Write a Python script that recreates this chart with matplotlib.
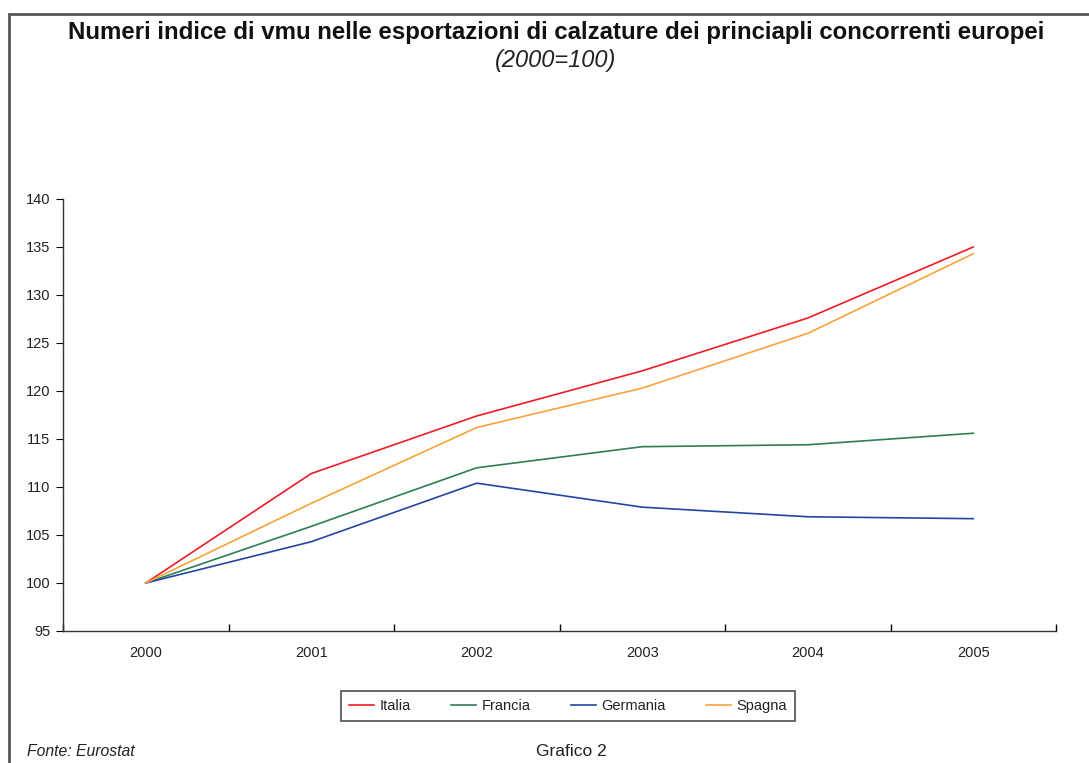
import matplotlib.pyplot as plt
from matplotlib.patches import Rectangle
import numpy as np

# ── Data ────────────────────────────────────
years = ["2000", "2001", "2002", "2003", "2004", "2005"]
italia = [100, 111.4, 117.4, 122.1, 127.6, 135.0]
francia = [100, 105.9, 112.0, 114.2, 114.4, 115.6]
germania = [100, 104.3, 110.4, 107.9, 106.9, 106.7]
spagna = [100, 108.3, 116.2, 120.3, 126.0, 134.3]

series = [
    ("Italia", italia, "#ee1c25"),
    ("Francia", francia, "#2f7f55"),
    ("Germania", germania, "#2346a0"),
    ("Spagna", spagna, "#f8a33c"),
]

TITLE = "Numeri indice di vmu nelle esportazioni di calzature dei princiapli concorrenti europei"

plt.rcParams["font.family"] = ["Liberation Sans", "DejaVu Sans"]

W, H = 1089, 763
fig = plt.figure(figsize=(W / 100, H / 100), dpi=100)

# outer frame (only top and left edges fall inside the picture)
fig.add_artist(Rectangle((8.5 / W, -0.1), 1.2, (H - 13.5) / H + 0.1,
                         transform=fig.transFigure, fill=False,
                         edgecolor="#555555", linewidth=2))

ax = fig.add_axes([63 / W, (H - 631) / H, (1056 - 63) / W, (631 - 199) / H])

x = np.arange(len(years))
for name, vals, col in series:
    ax.plot(x, vals, color=col, linewidth=1.2, label=name)

ax.set_xlim(-0.5, len(years) - 0.5)
ax.set_ylim(95, 140)
ax.set_yticks(np.arange(95, 141, 5))
ax.set_xticks(x)
ax.set_xticklabels(years)
ax.set_xticks(np.arange(-0.5, len(years)), minor=True)
ax.tick_params(axis="x", which="major", length=0, pad=11, labelsize=10.5)
ax.tick_params(axis="x", which="minor", length=5, direction="in", width=1)
ax.tick_params(axis="y", length=5, direction="out", labelsize=10.5, pad=4)
for lab in ax.get_xticklabels() + ax.get_yticklabels():
    lab.set_color("#222222")

for s in ["top", "right"]:
    ax.spines[s].set_visible(False)
for s in ["left", "bottom"]:
    ax.spines[s].set_color("#333333")
    ax.spines[s].set_linewidth(1)

# ── Titles and notes ────────────────────────
fig.text(556 / W, 1 - 33 / H, TITLE, ha="center", va="center",
         fontsize=17.3, fontweight="bold", color="#111111")
fig.text(556 / W, 1 - 61 / H, "(2000=100)", ha="center", va="center",
         fontsize=17, style="italic", color="#222222")

leg = fig.legend(loc="center", bbox_to_anchor=(568 / W, 1 - 706 / H), ncol=4,
                 frameon=True, fancybox=False, fontsize=10.5, handlelength=1.7,
                 handletextpad=0.4, columnspacing=2.75, borderpad=0.55)
leg.get_frame().set_edgecolor("#222222")
leg.get_frame().set_linewidth(1.2)
for t in leg.get_texts():
    t.set_color("#222222")

fig.text(571 / W, 1 - 752 / H, "Grafico 2", ha="center", va="center",
         fontsize=12.5, color="#222222")
fig.text(27 / W, 1 - 752 / H, "Fonte: Eurostat", ha="left", va="center",
         fontsize=11.3, style="italic", color="#222222")

fig.savefig("out.png", dpi=100)
